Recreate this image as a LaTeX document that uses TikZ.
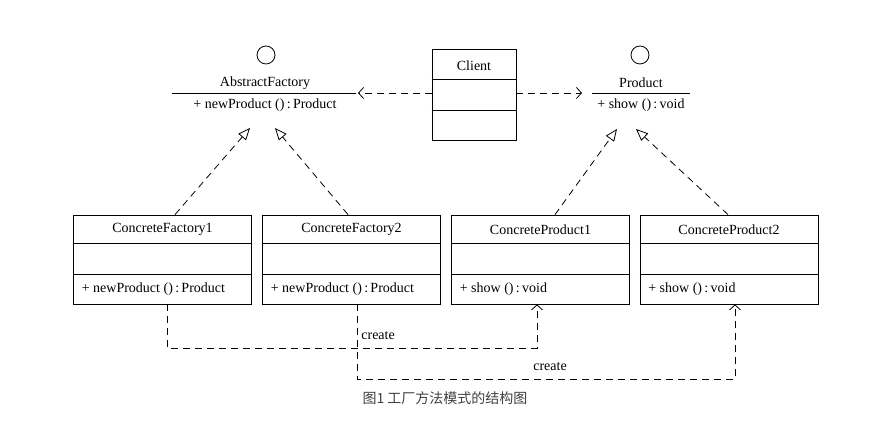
\documentclass[tikz,border=0pt]{standalone}
\usepackage{fontspec}
\setmainfont{Liberation Serif}
\newfontfamily\cjkfont{Noto Sans CJK SC}
\usepackage{tikz}
\usetikzlibrary{arrows.meta}
\usetikzlibrary{positioning}

\begin{document}
\begin{tikzpicture}[x=1pt, y=1pt, line width=0.8pt,
        font=\fontsize{14}{16}\selectfont,
        classbox/.style={draw, minimum width=178pt, minimum height=89pt, inner sep=0pt},
        clientbox/.style={draw, minimum width=84pt, minimum height=91pt, inner sep=0pt},
        dep/.style={dash pattern=on 7pt off 5pt, -{Straight Barb[length=5pt,width=11pt]}},
        gen/.style={dash pattern=on 7pt off 5pt, -{Triangle[open,length=12pt,width=10pt]}}]
        \useasboundingbox (0,0) rectangle (884,446);

        % interfaces
        \draw (266,391) circle (9pt);
        \node (afname) at (265,363) {AbstractFactory};
        \draw (172,353) -- (356,353);
        \node (afop) at (265,341) {+ newProduct ()\,:\,Product};
        \coordinate (afend) at (358,353);
        \coordinate (afin1) at (250,318);
        \coordinate (afin2) at (275,318);

        \draw (640,391) circle (9pt);
        \node (pname) at (641,363) {Product};
        \draw (592,353) -- (690,353);
        \node (pop) at (641,341) {+ show ()\,:\,void};
        \coordinate (pend) at (582,353);
        \coordinate (pin1) at (617,317);
        \coordinate (pin2) at (636,317);

        % client
        \node[clientbox] (client) at (474,351.5) {};
        \node at ([yshift=-17pt]client.north) {Client};
        \draw ([yshift=-31pt]client.north west) -- ([yshift=-31pt]client.north east);
        \draw ([yshift=30pt]client.south west) -- ([yshift=30pt]client.south east);
        \draw[dep] (client.west |- afend) -- (afend);
        \draw[dep] (client.east |- pend) -- (pend);

        % concrete classes
        \node[classbox] (cf1) at (162.5,186.5) {};
        \node[classbox] (cf2) at (351.5,186.5) {};
        \node[classbox] (cp1) at (540.5,186.5) {};
        \node[classbox] (cp2) at (729,186.5) {};

        \node at ([yshift=-15pt]cf1.north) {ConcreteFactory1};
        \draw ([yshift=-29pt]cf1.north west) -- ([yshift=-29pt]cf1.north east);
        \draw ([yshift=30pt]cf1.south west) -- ([yshift=30pt]cf1.south east);
        \node[anchor=west] at ([shift={(5pt,15pt)}]cf1.south west) {+ newProduct ()\,:\,Product};

        \node at ([yshift=-15pt]cf2.north) {ConcreteFactory2};
        \draw ([yshift=-29pt]cf2.north west) -- ([yshift=-29pt]cf2.north east);
        \draw ([yshift=30pt]cf2.south west) -- ([yshift=30pt]cf2.south east);
        \node[anchor=west] at ([shift={(5pt,15pt)}]cf2.south west) {+ newProduct ()\,:\,Product};

        \node at ([yshift=-15pt]cp1.north) {ConcreteProduct1};
        \draw ([yshift=-29pt]cp1.north west) -- ([yshift=-29pt]cp1.north east);
        \draw ([yshift=30pt]cp1.south west) -- ([yshift=30pt]cp1.south east);
        \node[anchor=west] at ([shift={(5pt,15pt)}]cp1.south west) {+ show ()\,:\,void};

        \node at ([yshift=-15pt]cp2.north) {ConcreteProduct2};
        \draw ([yshift=-29pt]cp2.north west) -- ([yshift=-29pt]cp2.north east);
        \draw ([yshift=30pt]cp2.south west) -- ([yshift=30pt]cp2.south east);
        \node[anchor=west] at ([shift={(5pt,15pt)}]cp2.south west) {+ show ()\,:\,void};

        % realisation
        \draw[gen] ([xshift=12.5pt]cf1.north) -- (afin1);
        \draw[gen] ([xshift=-3.5pt]cf2.north) -- (afin2);
        \draw[gen] ([xshift=14.5pt]cp1.north) -- (pin1);
        \draw[gen] ([xshift=-1pt]cp2.north) -- (pin2);

        % create
        \draw[dep] ([xshift=4.5pt]cf1.south) -- ++(0,-44) -| ([xshift=-3.5pt]cp1.south);
        \draw[dep] ([xshift=5.5pt]cf2.south) -- ++(0,-75) -| ([xshift=6pt]cp2.south);
        \node[anchor=west, inner sep=1pt] (create1) at (360,110) {create};
        \node (create2) at (550,79) {create};

        \node[font=\cjkfont\fontsize{14}{16}\selectfont, text=black!75] (caption) at (445,48) {图1 工厂方法模式的结构图};
\end{tikzpicture}
\end{document}
